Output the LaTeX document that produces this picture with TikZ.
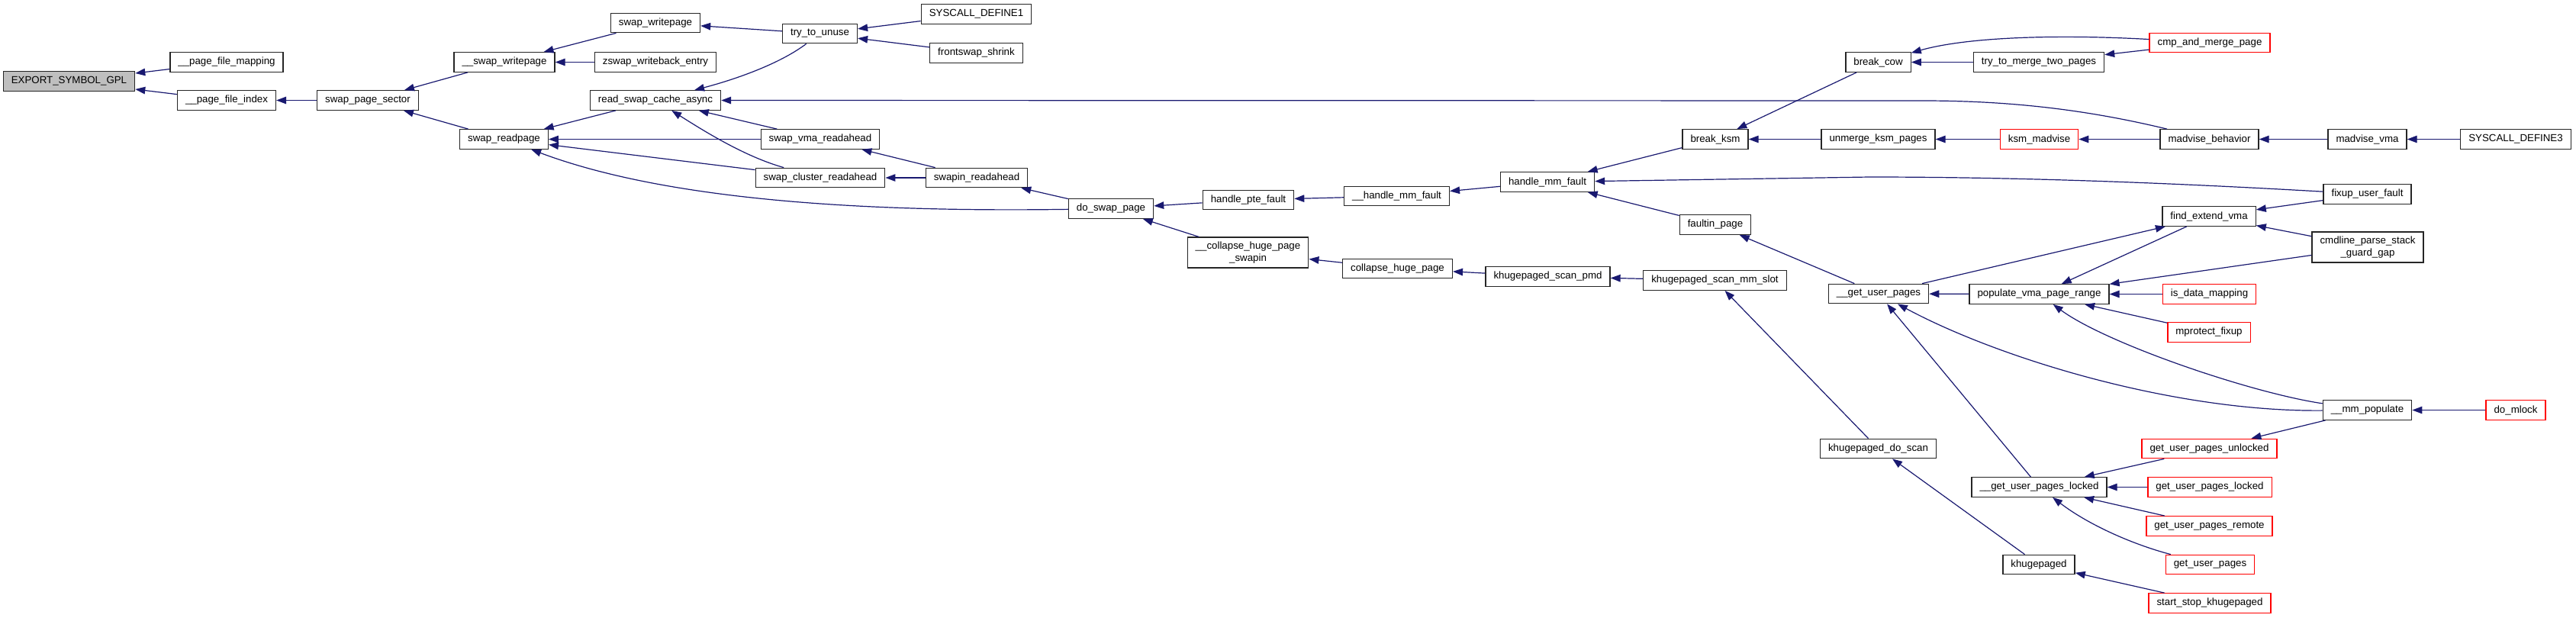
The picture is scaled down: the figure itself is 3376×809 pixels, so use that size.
\documentclass[tikz,border=0pt]{standalone}
\usepackage{fontspec}
\setmainfont{Liberation Sans}
\usetikzlibrary{arrows.meta}
\definecolor{midblue}{HTML}{191970}
\definecolor{rootgray}{HTML}{BFBFBF}

\begin{document}
\begin{tikzpicture}[
    x=1pt, y=-1pt,
    fn/.style={rectangle, draw=black!85, line width=1.3pt, fill=white,
               minimum height=25.5pt, inner xsep=10.5pt, inner ysep=6pt,
               align=center, font=\fontsize{13.3}{15.5}\selectfont},
    fnred/.style={fn, draw=red},
    fnroot/.style={fn, fill=rootgray},
    call/.style={-{Triangle[length=13pt,width=9.5pt]}, draw=midblue, line width=1.2pt}
]
    \useasboundingbox (0,0) rectangle (3376,809);

    \node[fnroot] (exportsym) at (90.5,106.5) {EXPORT\_SYMBOL\_GPL};
    \node[fn] (pfmap) at (297,81.5) {\_\_page\_file\_mapping};
    \node[fn] (pfindex) at (297,131.5) {\_\_page\_file\_index};
    \node[fn] (pagesector) at (482,131.5) {swap\_page\_sector};
    \node[fn] (swpwrite) at (661,81.5) {\_\_swap\_writepage};
    \node[fn] (readpage) at (660.5,182.5) {swap\_readpage};
    \node[fn] (writepage) at (859,30) {swap\_writepage};
    \node[fn] (zswapwb) at (859,81.5) {zswap\_writeback\_entry};
    \node[fn] (readcache) at (859,131.5) {read\_swap\_cache\_async};
    \node[fn] (unuse) at (1074.5,44) {try\_to\_unuse};
    \node[fn] (sysdefone) at (1279.5,18.5) {SYSCALL\_DEFINE1};
    \node[fn] (fsshrink) at (1279.5,69.5) {frontswap\_shrink};
    \node[fn] (vmara) at (1075,182.5) {swap\_vma\_readahead};
    \node[fn] (clusterra) at (1075,233) {swap\_cluster\_readahead};
    \node[fn] (swapinra) at (1280,233) {swapin\_readahead};
    \node[fn] (doswap) at (1456,273.5) {do\_swap\_page};
    \node[fn] (ptefault) at (1636,262) {handle\_pte\_fault};
    \node[fn] (colswapin) at (1635.5,331) {\_\_collapse\_huge\_page\\\_swapin};
    \node[fn] (handlemmx) at (1830.5,257) {\_\_handle\_mm\_fault};
    \node[fn] (handlemm) at (2028,238.5) {handle\_mm\_fault};
    \node[fn] (colhuge) at (1831.5,352) {collapse\_huge\_page};
    \node[fn] (scanpmd) at (2028.5,362.5) {khugepaged\_scan\_pmd};
    \node[fn] (scanslot) at (2247.5,367.5) {khugepaged\_scan\_mm\_slot};
    \node[fn] (breakksm) at (2248,182.5) {break\_ksm};
    \node[fn] (faultin) at (2248,294.5) {faultin\_page};
    \node[fn] (breakcow) at (2461.5,81.5) {break\_cow};
    \node[fn] (unmerge) at (2461.5,182.5) {unmerge\_ksm\_pages};
    \node[fn] (getuserx) at (2462,385) {\_\_get\_user\_pages};
    \node[fn] (doscan) at (2461.5,588) {khugepaged\_do\_scan};
    \node[fnred] (cmpmerge) at (2896,56) {cmp\_and\_merge\_page};
    \node[fn] (mergetwo) at (2672,81.5) {try\_to\_merge\_two\_pages};
    \node[fnred] (ksmmadv) at (2672.5,182.5) {ksm\_madvise};
    \node[fn] (madvbeh) at (2895.5,182.5) {madvise\_behavior};
    \node[fn] (madvvma) at (3102.5,182.5) {madvise\_vma};
    \node[fn] (sysdefthree) at (3297,182.5) {SYSCALL\_DEFINE3};
    \node[fn] (fixupfault) at (3102.5,254.5) {fixup\_user\_fault};
    \node[fn] (findvma) at (2895,283.5) {find\_extend\_vma};
    \node[fn] (cmdline) at (3103,324) {cmdline\_parse\_stack\\\_guard\_gap};
    \node[fn] (populate) at (2672.5,385.5) {populate\_vma\_page\_range};
    \node[fnred] (isdata) at (2895.5,385.5) {is\_data\_mapping};
    \node[fnred] (mprotect) at (2895,435.5) {mprotect\_fixup};
    \node[fn] (mmpopulate) at (3102.5,537.5) {\_\_mm\_populate};
    \node[fnred] (domlock) at (3297,537.5) {do\_mlock};
    \node[fnred] (gupunlocked) at (2895.5,588) {get\_user\_pages\_unlocked};
    \node[fn] (guplockedx) at (2672.5,638.5) {\_\_get\_user\_pages\_locked};
    \node[fnred] (guplocked) at (2896,638.5) {get\_user\_pages\_locked};
    \node[fnred] (gupremote) at (2895.5,689.5) {get\_user\_pages\_remote};
    \node[fnred] (gup) at (2896.5,740) {get\_user\_pages};
    \node[fn] (khugepaged) at (2672,740) {khugepaged};
    \node[fnred] (startstop) at (2896,790.5) {start\_stop\_khugepaged};

    \draw[call] (pfmap) -- (exportsym);
    \draw[call] (pfindex) -- (exportsym);
    \draw[call] (pagesector) -- (pfindex);
    \draw[call] (swpwrite) -- (pagesector);
    \draw[call] (readpage) -- (pagesector);
    \draw[call] (writepage) -- (swpwrite);
    \draw[call] (zswapwb) -- (swpwrite);
    \draw[call] (readcache) -- (readpage);
    \draw[call] (vmara) -- (readpage);
    \draw[call] (clusterra) -- (readpage);
    \draw[call] (doswap) .. controls (1150,278) and (880,265) .. (readpage);
    \draw[call] (unuse) -- (writepage);
    \draw[call] (unuse) .. controls (1020,85) and (960,105) .. (readcache);
    \draw[call] (sysdefone) -- (unuse);
    \draw[call] (fsshrink) -- (unuse);
    \draw[call] (vmara) -- (readcache);
    \draw[call] (clusterra) .. controls (975,205) and (920,170) .. (readcache);
    \draw[call] (madvbeh) .. controls (2740,145) and (2640,132) .. (2520,132) -- (readcache);
    \draw[call] (swapinra) -- (vmara);
    \draw[call] (swapinra) -- (clusterra);
    \draw[call] (doswap) -- (swapinra);
    \draw[call] (ptefault) -- (doswap);
    \draw[call] (colswapin) -- (doswap);
    \draw[call] (handlemmx) -- (ptefault);
    \draw[call] (colhuge) -- (colswapin);
    \draw[call] (handlemm) -- (handlemmx);
    \draw[call] (scanpmd) -- (colhuge);
    \draw[call] (scanslot) -- (scanpmd);
    \draw[call] (doscan) -- (scanslot);
    \draw[call] (khugepaged) -- (doscan);
    \draw[call] (startstop) -- (khugepaged);
    \draw[call] (breakksm) -- (handlemm);
    \draw[call] (fixupfault) .. controls (2850,240) and (2650,232) .. (2450,232) -- (handlemm);
    \draw[call] (faultin) -- (handlemm);
    \draw[call] (breakcow) -- (breakksm);
    \draw[call] (unmerge) -- (breakksm);
    \draw[call] (cmpmerge) .. controls (2700,45) and (2580,48) .. (breakcow);
    \draw[call] (mergetwo) -- (breakcow);
    \draw[call] (cmpmerge) -- (mergetwo);
    \draw[call] (ksmmadv) -- (unmerge);
    \draw[call] (madvbeh) -- (ksmmadv);
    \draw[call] (madvvma) -- (madvbeh);
    \draw[call] (sysdefthree) -- (madvvma);
    \draw[call] (getuserx) -- (faultin);
    \draw[call] (getuserx) -- (findvma);
    \draw[call] (populate) -- (getuserx);
    \draw[call] (mmpopulate) .. controls (2850,540) and (2620,470) .. (getuserx);
    \draw[call] (guplockedx) -- (getuserx);
    \draw[call] (findvma) -- (populate);
    \draw[call] (cmdline) -- (populate);
    \draw[call] (isdata) -- (populate);
    \draw[call] (mprotect) -- (populate);
    \draw[call] (mmpopulate) .. controls (2950,515) and (2760,450) .. (populate);
    \draw[call] (mmpopulate) -- (gupunlocked);
    \draw[call] (gupunlocked) -- (guplockedx);
    \draw[call] (guplocked) -- (guplockedx);
    \draw[call] (gupremote) -- (guplockedx);
    \draw[call] (gup) .. controls (2800,715) and (2740,690) .. (guplockedx);
    \draw[call] (domlock) -- (mmpopulate);
    \draw[call] (fixupfault) -- (findvma);
    \draw[call] (cmdline) -- (findvma);
\end{tikzpicture}
\end{document}
